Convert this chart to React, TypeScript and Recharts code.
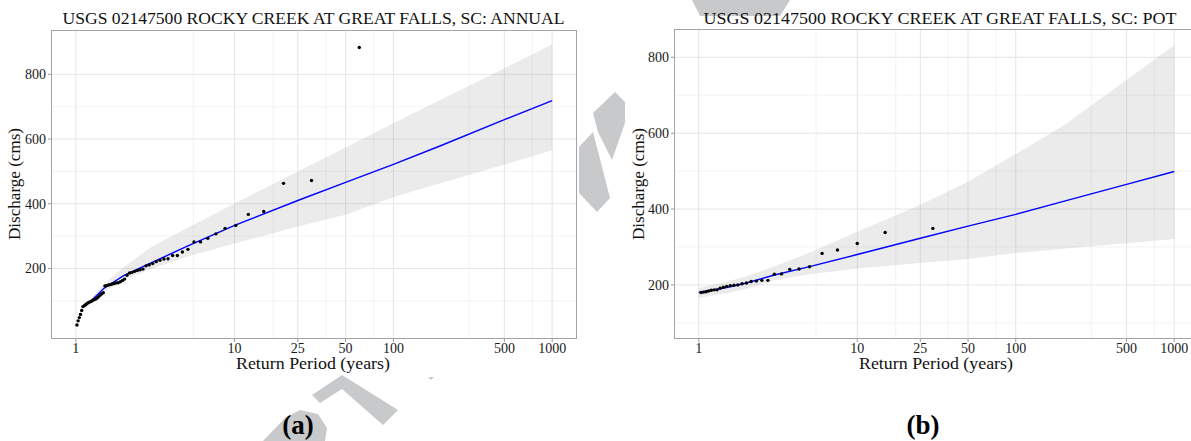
import React from "react";
import {
  ComposedChart,
  Area,
  Line,
  Scatter,
  XAxis,
  YAxis,
  CartesianGrid,
} from "recharts";

// return period axis (log10), shared by both panels
const returnTicks = [1, 10, 25, 50, 100, 500, 1000];
const returnMinor = [5.5, 17.5, 37.5, 75, 300, 750];
const yMajor = [200, 400, 600, 800];
const yMinor = [100, 300, 500, 700];

// annual maximum series: plotting positions and observed peaks
const annualT = [
  61, 30.5, 20.33, 15.25, 12.2, 10.17, 8.71, 7.63, 6.78, 6.1, 5.55, 5.08, 4.69,
  4.36, 4.07, 3.81, 3.59, 3.39, 3.21, 3.05, 2.9, 2.77, 2.65, 2.54, 2.44, 2.35,
  2.26, 2.18, 2.1, 2.03, 1.97, 1.91, 1.85, 1.79, 1.74, 1.69, 1.65, 1.61, 1.56,
  1.525, 1.49, 1.45, 1.42, 1.386, 1.356, 1.326, 1.298, 1.271, 1.245, 1.22,
  1.196, 1.173, 1.151, 1.13, 1.109, 1.089, 1.07, 1.052, 1.034, 1.017,
];
const annualQ = [
  883, 472, 463, 376, 367, 333, 324, 307, 293, 282, 282, 259, 251, 240, 240,
  230, 229, 225, 221, 215, 211, 208, 198, 196, 194, 191, 188, 186, 179, 167,
  163, 159, 156, 155, 153, 152, 150, 149, 147, 146, 125, 121, 117, 112, 108,
  105, 103, 100, 98, 96, 94, 91, 88, 85, 82, 70, 58, 48, 38, 25,
];

// annual fitted quantiles with confidence bounds
const annualFitT = [1.25, 1.5, 2, 3, 5, 10, 25, 50, 100, 200, 500, 1000];
const annualFitQ = [100, 138, 178, 218, 268, 333, 410, 466, 522, 580, 660, 719];
const annualLower = [94, 128, 165, 198, 236, 277, 330, 366, 420, 464, 521, 565];
const annualUpper = [108, 152, 204, 267, 324, 401, 500, 574, 649, 722, 819, 893];

// peaks-over-threshold series
const potT = [
  30, 15, 10, 7.5, 6, 5, 4.29, 3.75, 3.33, 3, 2.73, 2.5, 2.31, 2.14, 2, 1.875,
  1.765, 1.667, 1.579, 1.5, 1.429, 1.364, 1.304, 1.25, 1.2, 1.154, 1.111,
  1.071, 1.034,
];
const potQ = [
  349, 338, 309, 292, 283, 248, 242, 241, 229, 228, 212, 212, 210, 209, 205,
  203, 200, 199, 198, 196, 194, 191, 187, 187, 186, 184, 182, 181, 180,
];

const potFitT = [1, 1.5, 2, 3, 5, 10, 25, 50, 100, 200, 500, 1000];
const potFitQ = [180, 193, 205, 226, 248, 280, 323, 355, 386, 420, 465, 499];
const potLower = [166, 178, 190, 212, 228, 243, 258, 268, 284, 295, 310, 321];
const potUpper = [192, 208, 222, 249, 285, 340, 411, 472, 545, 620, 740, 832];

const annualPoints = annualT.map((t, i) => ({ t, q: annualQ[i] }));
const annualCurve = annualFitT.map((t, i) => ({
  t,
  fit: annualFitQ[i],
  band: [annualLower[i], annualUpper[i]],
}));
const potPoints = potT.map((t, i) => ({ t, q: potQ[i] }));
const potCurve = potFitT.map((t, i) => ({
  t,
  fit: potFitQ[i],
  band: [potLower[i], potUpper[i]],
}));

const SERIF = "'Liberation Serif', 'Times New Roman', serif";
const xDomain = [Math.pow(10, -0.15), Math.pow(10, 3.15)];

interface PanelProps {
  left: number;
  top: number;
  yAxisWidth: number;
  rightGap: number;
  points: { t: number; q: number }[];
  curve: { t: number; fit: number; band: number[] }[];
  yDomain: number[];
}

const W = 600;
const H = 441;
const XAXIS_H = 20;
const PLOT_BOTTOM = 338;

const XTick = (p: any) => (
  <text x={p.x} y={p.y} dy="0.71em" textAnchor="middle" fontFamily={SERIF} fontSize={14} fill="#1a1a1a">
    {p.payload.value}
  </text>
);

const YTick = (p: any) => (
  <text x={p.x} y={p.y} dy="0.36em" textAnchor="end" fontFamily={SERIF} fontSize={14} fill="#1a1a1a">
    {p.payload.value}
  </text>
);

const Panel = ({ left, top, yAxisWidth, rightGap, points, curve, yDomain }: PanelProps) => {
  const bottom = H - PLOT_BOTTOM - XAXIS_H;
  return (
    <div style={{ position: "absolute", left, top: 0, width: W, height: H }}>
      <ComposedChart
        width={W}
        height={H}
        margin={{ top, right: rightGap, bottom, left: 0 }}
      >
        <CartesianGrid
          stroke="#f0f0f0"
          strokeWidth={0.8}
          verticalValues={returnMinor}
          horizontalValues={yMinor}
        />
        <CartesianGrid
          stroke="#e2e2e2"
          strokeWidth={0.9}
          verticalValues={returnTicks}
          horizontalValues={yMajor}
        />
        <XAxis
          type="number"
          dataKey="t"
          scale="log"
          domain={xDomain}
          allowDataOverflow
          ticks={returnTicks}
          interval={0}
          height={XAXIS_H}
          axisLine={false}
          tickLine={{ stroke: "#9a9a9a" }}
          tickSize={4}
          tickMargin={1}
          tick={<XTick />}
        />
        <YAxis
          type="number"
          domain={yDomain}
          allowDataOverflow
          ticks={yMajor}
          interval={0}
          width={yAxisWidth}
          axisLine={false}
          tickLine={{ stroke: "#9a9a9a" }}
          tickSize={4}
          tickMargin={2}
          tick={<YTick />}
        />
        <Area
          data={curve}
          dataKey="band"
          fill="#999999"
          fillOpacity={0.2}
          stroke="none"
          isAnimationActive={false}
        />
        <Line
          data={curve}
          dataKey="fit"
          stroke="#0000ff"
          strokeWidth={1.4}
          dot={false}
          isAnimationActive={false}
        />
        <Scatter
          data={points}
          dataKey="q"
          isAnimationActive={false}
          shape={(p: any) => <circle cx={p.cx} cy={p.cy} r={1.7} fill="#000" />}
        />
      </ComposedChart>
      {/* panel border */}
      <div
        style={{
          position: "absolute",
          left: yAxisWidth - 1,
          top: top - 1,
          width: W - rightGap - yAxisWidth + 2,
          height: PLOT_BOTTOM - top + 2,
          border: "1px solid #a3a3a3",
          boxSizing: "border-box",
          pointerEvents: "none",
        }}
      />
    </div>
  );
};

export default function App() {
  const label = { fontFamily: SERIF, fill: "#111" };
  return (
    <div
      style={{
        position: "absolute",
        left: 0,
        top: 0,
        width: 1191,
        height: 441,
        overflow: "hidden",
        background: "#fff",
      }}
    >
      <Panel
        left={0}
        top={31}
        yAxisWidth={52}
        rightGap={24}
        points={annualPoints}
        curve={annualCurve}
        yDomain={[-15, 934]}
      />
      <Panel
        left={600}
        top={30}
        yAxisWidth={75}
        rightGap={2}
        points={potPoints}
        curve={potCurve}
        yDomain={[60, 872]}
      />
      <svg
        width={1191}
        height={441}
        style={{ position: "absolute", left: 0, top: 0, pointerEvents: "none" }}
      >
        {/* background stamp fragments */}
        <g fill="#c8c9cb">
          <polygon points="692,0 790,0 780,16 700,16" />
          <polygon points="593,113 615,92 625,102 625,123 612,160 598,132" />
          <polygon points="579,147 593,132 610,198 597,212 579,193" />
          <polygon points="312,395 342,375 398,410 383,425 342,389 320,403" />
          <polygon points="428,377 434,377 431,380" />
          <polygon points="263,441 285,418 300,410 318,414 327,428 325,441" />
        </g>

        <text x={313.5} y={24} fontSize={17} textAnchor="middle" textLength={502} lengthAdjust="spacingAndGlyphs" {...label}>
          USGS 02147500 ROCKY CREEK AT GREAT FALLS, SC: ANNUAL
        </text>
        <text x={940} y={24} fontSize={17} textAnchor="middle" textLength={473} lengthAdjust="spacingAndGlyphs" {...label}>
          USGS 02147500 ROCKY CREEK AT GREAT FALLS, SC: POT
        </text>

        <text transform="translate(20,184) rotate(-90)" fontSize={17} textAnchor="middle" textLength={112} lengthAdjust="spacingAndGlyphs" {...label}>
          Discharge (cms)
        </text>
        <text transform="translate(644,184) rotate(-90)" fontSize={17} textAnchor="middle" textLength={112} lengthAdjust="spacingAndGlyphs" {...label}>
          Discharge (cms)
        </text>

        <text x={313} y={369} fontSize={17} textAnchor="middle" textLength={154} lengthAdjust="spacingAndGlyphs" {...label}>
          Return Period (years)
        </text>
        <text x={936} y={369} fontSize={17} textAnchor="middle" textLength={154} lengthAdjust="spacingAndGlyphs" {...label}>
          Return Period (years)
        </text>

        <text x={298} y={434} fontSize={27} fontWeight="bold" textAnchor="middle" fontFamily={SERIF} fill="#000">
          (a)
        </text>
        <text x={923} y={434} fontSize={27} fontWeight="bold" textAnchor="middle" fontFamily={SERIF} fill="#000">
          (b)
        </text>
      </svg>
    </div>
  );
}
